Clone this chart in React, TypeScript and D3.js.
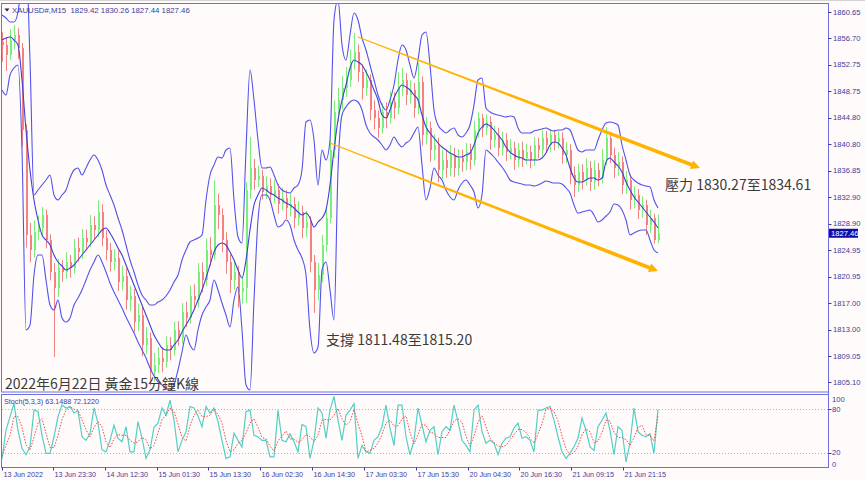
import React from "react";
import * as d3 from "d3";

// 15-min XAUUSD in 4px steps (one entry ≈ 4 bars)
const firstOpen = 1856.2;
const closes = [
  1855.7, 1854.2, 1856.45, 1857.2, 1855.25, 1842.95, 1827.2, 1824.95, 1827.65, 1828.25,
  1830.2, 1826.45, 1821.65, 1819.25, 1822.25, 1821.65, 1823.15, 1822.25, 1825.25, 1824.65,
  1826.75, 1826.15, 1828.7, 1827.95, 1830.65, 1826.75, 1824.95, 1823.15, 1823.75, 1820.15,
  1821.05, 1817.45, 1818.05, 1814.15, 1815.2, 1810.7, 1811.75, 1806.65, 1807.7, 1808.75,
  1808.15, 1810.7, 1809.95, 1812.95, 1811.75, 1815.65, 1814.75, 1818.05, 1817.45, 1821.65,
  1820.45, 1824.95, 1824.2, 1831.7, 1830.2, 1826.45, 1823.15, 1820.45, 1821.65, 1818.65,
  1819.25, 1833.95, 1837.25, 1835.45, 1836.05, 1833.65, 1834.55, 1833.2, 1833.95, 1831.85,
  1832.75, 1831.25, 1831.85, 1829.75, 1830.65, 1828.25, 1829.15, 1823.15, 1818.95, 1821.2,
  1825.7, 1829.75, 1839.95, 1845.65, 1847.45, 1849.25, 1850.45, 1853.15, 1854.65, 1851.65,
  1849.25, 1850.45, 1845.95, 1844.75, 1843.25, 1845.65, 1844.75, 1847.15, 1846.25, 1849.25,
  1850.45, 1848.2, 1848.95, 1846.25, 1850.15, 1842.2, 1843.25, 1839.95, 1840.7, 1836.95,
  1838.45, 1837.25, 1839.2, 1837.25, 1838.75, 1838.15, 1839.65, 1838.45, 1842.95, 1844.75,
  1843.25, 1844.15, 1841.45, 1842.2, 1840.25, 1841.45, 1839.65, 1840.25, 1838.45, 1839.95,
  1838.75, 1839.65, 1838.45, 1840.7, 1839.95, 1841.75, 1840.7, 1842.2, 1841.15, 1841.75,
  1839.2, 1839.95, 1836.2, 1834.7, 1836.65, 1835.45, 1837.25, 1835.15, 1836.95, 1835.75,
  1838.45, 1841.75, 1839.2, 1837.25, 1838.15, 1834.7, 1835.45, 1832.45, 1833.2, 1830.95,
  1831.7, 1828.7, 1829.75, 1826.45, 1827.46,
];
const highs = [
  1857.6, 1856.9, 1858.1, 1858.7, 1858.2, 1856.0, 1843.8, 1829.0, 1829.4, 1830.1,
  1831.4, 1831.0, 1827.3, 1823.0, 1823.6, 1823.4, 1824.6, 1824.2, 1826.6, 1826.8,
  1828.1, 1828.0, 1830.2, 1830.0, 1832.4, 1831.8, 1827.9, 1826.0, 1825.1, 1824.9,
  1822.6, 1822.2, 1819.6, 1819.1, 1816.9, 1816.3, 1813.4, 1812.6, 1809.5, 1810.4,
  1810.2, 1812.0, 1811.9, 1814.2, 1814.3, 1817.0, 1817.2, 1819.6, 1819.8, 1823.0,
  1823.1, 1826.7, 1826.9, 1835.4, 1833.4, 1831.2, 1827.6, 1824.3, 1823.5, 1822.6,
  1821.0, 1835.1, 1841.9, 1838.6, 1837.6, 1837.0, 1836.0, 1835.7, 1835.5, 1834.9,
  1834.3, 1833.9, 1833.4, 1832.9, 1832.3, 1831.6, 1830.8, 1830.0, 1824.2, 1823.0,
  1827.2, 1831.3, 1841.6, 1847.4, 1849.3, 1851.0, 1852.4, 1855.0, 1857.5, 1855.8,
  1852.8, 1852.0, 1851.3, 1847.4, 1845.9, 1847.0, 1847.1, 1848.8, 1848.6, 1851.6,
  1852.3, 1851.5, 1850.4, 1850.0, 1853.0, 1851.0, 1844.9, 1844.2, 1842.3, 1841.8,
  1840.0, 1839.9, 1840.7, 1840.3, 1840.1, 1840.0, 1841.0, 1840.9, 1844.3, 1845.6,
  1845.4, 1845.3, 1845.0, 1843.6, 1843.3, 1842.7, 1842.5, 1841.6, 1841.2, 1841.0,
  1841.2, 1840.9, 1840.6, 1841.9, 1841.8, 1842.9, 1842.8, 1843.1, 1843.0, 1842.8,
  1842.6, 1841.1, 1840.8, 1837.5, 1837.9, 1837.8, 1838.7, 1838.3, 1838.4, 1838.0,
  1840.1, 1843.4, 1842.6, 1840.3, 1839.6, 1839.0, 1836.8, 1836.3, 1834.5, 1834.1,
  1833.0, 1832.5, 1831.0, 1830.4, 1830.26,
];
const lows = [
  1853.2, 1851.8, 1853.5, 1855.0, 1853.6, 1840.5, 1825.3, 1823.1, 1823.8, 1826.4,
  1827.0, 1825.2, 1820.4, 1808.9, 1817.9, 1820.2, 1820.6, 1820.8, 1821.4, 1823.2,
  1823.6, 1824.9, 1825.4, 1826.6, 1826.9, 1825.5, 1823.4, 1821.7, 1821.9, 1818.8,
  1818.9, 1816.0, 1815.8, 1812.6, 1812.8, 1809.0, 1809.3, 1804.7, 1805.2, 1806.5,
  1806.6, 1807.3, 1808.4, 1809.1, 1810.6, 1810.9, 1813.4, 1813.9, 1816.1, 1816.3,
  1818.6, 1819.5, 1822.6, 1823.5, 1828.1, 1824.6, 1821.4, 1818.5, 1819.0, 1816.3,
  1816.9, 1817.0, 1832.6, 1834.0, 1834.4, 1832.5, 1832.6, 1831.9, 1832.0, 1830.4,
  1830.9, 1829.6, 1830.0, 1828.2, 1828.6, 1826.7, 1826.9, 1821.6, 1815.5, 1817.4,
  1820.1, 1824.6, 1828.9, 1838.8, 1844.2, 1846.0, 1847.9, 1849.4, 1852.0, 1850.2,
  1847.5, 1848.1, 1844.4, 1843.0, 1841.8, 1842.4, 1843.2, 1843.9, 1844.6, 1845.3,
  1848.0, 1846.7, 1846.9, 1844.8, 1845.3, 1840.6, 1840.8, 1838.2, 1838.4, 1835.1,
  1835.6, 1835.8, 1836.0, 1835.9, 1836.1, 1836.7, 1836.9, 1837.0, 1837.6, 1841.8,
  1841.9, 1842.2, 1840.0, 1840.3, 1839.0, 1839.1, 1838.3, 1838.6, 1837.0, 1837.4,
  1837.4, 1837.8, 1837.2, 1837.6, 1838.7, 1839.0, 1839.6, 1839.7, 1839.9, 1840.2,
  1837.9, 1838.0, 1834.8, 1832.9, 1833.6, 1834.0, 1834.6, 1833.8, 1834.0, 1834.5,
  1834.9, 1837.6, 1838.0, 1835.7, 1836.1, 1833.3, 1833.4, 1831.0, 1831.2, 1829.6,
  1829.8, 1827.2, 1827.5, 1825.9, 1826.0,
];

// Bollinger bands as drawn on the screenshot
const upperBand = [
  1860.2, 1859.75, 1859.15, 1859.15, 1860.65, 1865.45, 1868.45, 1853.45, 1833.2, 1833.95,
  1834.7, 1835.45, 1836.2, 1833.2, 1832.45, 1833.2, 1833.95, 1835.75, 1836.95, 1837.25,
  1836.2, 1837.25, 1838.45, 1839.2, 1838.45, 1836.95, 1834.7, 1833.2, 1831.7, 1829.75,
  1827.95, 1825.7, 1823.45, 1821.65, 1819.7, 1818.2, 1817.45, 1816.7, 1816.7, 1817.15,
  1817.45, 1818.05, 1818.95, 1820.15, 1821.2, 1823.45, 1824.95, 1826.15, 1826.45, 1826.75,
  1827.2, 1832.45, 1836.2, 1837.7, 1838.9, 1838.75, 1839.95, 1840.25, 1832.45, 1826.9,
  1826.0, 1839.95, 1851.95, 1847.45, 1841.45, 1837.25, 1837.25, 1837.4, 1836.2, 1834.7,
  1833.95, 1833.65, 1833.5, 1834.25, 1834.7, 1836.95, 1844.15, 1844.45, 1841.45, 1834.7,
  1839.95, 1838.45, 1841.45, 1859.45, 1862.45, 1855.7, 1853.45, 1857.2, 1860.5, 1859.45,
  1856.75, 1854.95, 1852.7, 1850.45, 1848.2, 1846.7, 1845.95, 1847.45, 1849.7, 1853.45,
  1855.7, 1854.95, 1852.7, 1850.75, 1853.45, 1857.2, 1857.65, 1852.7, 1845.95, 1843.7,
  1842.95, 1842.5, 1842.95, 1843.25, 1842.2, 1841.9, 1842.5, 1843.7, 1846.7, 1850.45,
  1850.75, 1846.25, 1845.65, 1845.35, 1845.2, 1845.05, 1844.9, 1845.05, 1844.9, 1843.25,
  1842.5, 1842.5, 1842.5, 1842.8, 1842.95, 1843.1, 1843.25, 1842.95, 1842.8, 1842.95,
  1842.95, 1843.25, 1842.95, 1841.45, 1839.95, 1839.65, 1839.95, 1839.95, 1839.95, 1841.45,
  1842.95, 1844.0, 1844.15, 1844.0, 1843.7, 1840.7, 1838.45, 1836.2, 1835.45, 1835.0,
  1834.7, 1834.55, 1834.4, 1832.45, 1831.25,
];
const middleBand = [
  1856.45, 1856.75, 1856.9, 1856.45, 1855.7, 1850.45, 1842.95, 1836.95, 1832.45, 1829.45,
  1827.2, 1826.45, 1825.7, 1824.2, 1823.15, 1822.55, 1821.95, 1822.25, 1822.7, 1823.45,
  1824.2, 1824.95, 1825.7, 1826.45, 1827.2, 1827.95, 1828.25, 1827.5, 1826.45, 1825.25,
  1824.2, 1822.7, 1821.2, 1819.7, 1818.2, 1816.7, 1815.2, 1813.7, 1812.2, 1811.15,
  1810.25, 1809.95, 1809.95, 1810.7, 1811.45, 1812.65, 1813.7, 1814.75, 1815.95, 1817.45,
  1818.95, 1820.75, 1822.7, 1824.65, 1825.7, 1826.0, 1825.7, 1824.65, 1823.45, 1821.95,
  1820.75, 1823.45, 1827.95, 1831.7, 1833.2, 1834.25, 1833.95, 1833.5, 1833.2, 1832.75,
  1832.45, 1832.0, 1831.7, 1831.25, 1830.65, 1830.2, 1830.5, 1829.75, 1828.4, 1829.15,
  1829.75, 1830.95, 1834.7, 1839.95, 1844.45, 1847.45, 1849.7, 1852.25, 1853.45, 1853.15,
  1852.7, 1851.65, 1850.45, 1848.95, 1847.45, 1845.2, 1844.75, 1845.95, 1847.75, 1848.95,
  1849.7, 1849.4, 1848.95, 1848.2, 1847.45, 1845.2, 1843.4, 1842.5, 1841.75, 1841.0,
  1840.4, 1839.95, 1839.5, 1839.2, 1838.9, 1838.9, 1839.2, 1839.5, 1840.7, 1842.5,
  1843.4, 1843.85, 1843.55, 1842.95, 1842.2, 1841.45, 1840.4, 1839.65, 1839.2, 1838.9,
  1838.75, 1838.45, 1838.45, 1838.45, 1838.45, 1838.75, 1839.5, 1840.7, 1841.15, 1841.0,
  1840.25, 1839.2, 1837.25, 1835.75, 1835.15, 1835.15, 1835.45, 1835.75, 1835.75, 1835.45,
  1835.75, 1838.15, 1838.75, 1838.15, 1837.55, 1836.65, 1835.15, 1833.95, 1832.9, 1832.15,
  1831.4, 1830.65, 1829.9, 1829.15, 1828.25,
];
const lowerBand = [
  1848.95, 1848.2, 1851.2, 1852.25, 1852.7, 1839.95, 1812.95, 1813.7, 1821.2, 1824.2,
  1824.2, 1820.45, 1816.7, 1815.95, 1817.45, 1814.75, 1814.15, 1814.75, 1816.7, 1817.75,
  1818.95, 1820.45, 1821.95, 1823.15, 1824.2, 1823.15, 1821.65, 1820.0, 1818.65, 1817.45,
  1816.25, 1814.9, 1813.7, 1812.5, 1811.15, 1809.95, 1808.75, 1807.25, 1806.05, 1805.15,
  1804.7, 1804.25, 1803.95, 1804.7, 1806.95, 1809.65, 1812.2, 1810.7, 1809.95, 1812.95,
  1815.2, 1816.4, 1817.45, 1820.45, 1818.95, 1817.0, 1815.2, 1813.4, 1817.45, 1819.4,
  1812.95, 1804.7, 1803.95, 1817.45, 1829.45, 1833.2, 1833.2, 1832.45, 1830.2, 1828.4,
  1828.7, 1829.45, 1828.7, 1826.45, 1824.95, 1823.75, 1821.2, 1812.95, 1809.5, 1810.4,
  1821.95, 1823.15, 1818.95, 1814.45, 1836.95, 1845.2, 1846.4, 1847.15, 1847.45, 1847.15,
  1845.95, 1843.7, 1842.5, 1841.9, 1841.45, 1840.7, 1839.95, 1840.7, 1841.9, 1841.0,
  1840.4, 1841.0, 1841.45, 1842.5, 1843.4, 1837.7, 1832.45, 1834.25, 1837.25, 1836.2,
  1835.45, 1833.95, 1832.9, 1832.45, 1833.95, 1835.0, 1835.45, 1834.7, 1833.65, 1831.25,
  1833.2, 1839.95, 1839.5, 1838.9, 1838.15, 1837.4, 1836.5, 1835.45, 1835.15, 1835.0,
  1834.85, 1834.7, 1834.7, 1834.55, 1834.7, 1835.0, 1835.3, 1835.15, 1835.0, 1835.0,
  1834.85, 1834.25, 1833.5, 1831.7, 1830.5, 1830.65, 1830.8, 1830.95, 1830.2, 1829.15,
  1829.45, 1830.05, 1830.65, 1831.85, 1831.7, 1830.95, 1829.45, 1827.2, 1827.5, 1827.8,
  1827.95, 1827.95, 1826.45, 1824.95, 1824.5,
];

// Stoch(5,3,3) main (%K) and signal (%D)
const stochK = [
  11, 51, 70, 88, 51, 26, 17, 28, 79, 77,
  44, 19, 19, 42, 70, 86, 82, 84, 75, 78,
  42, 37, 46, 82, 61, 24, 21, 37, 58, 40,
  35, 56, 21, 21, 63, 40, 12, 24, 55, 61,
  82, 72, 93, 65, 21, 37, 49, 84, 82, 71,
  56, 84, 75, 82, 63, 37, 12, 14, 47, 37,
  28, 77, 79, 44, 42, 37, 37, 14, 14, 79,
  37, 35, 46, 35, 21, 59, 56, 12, 37, 82,
  75, 40, 79, 98, 65, 37, 72, 79, 88, 12,
  30, 21, 19, 37, 42, 56, 86, 54, 30, 86,
  86, 42, 17, 37, 82, 58, 35, 51, 56, 17,
  49, 56, 51, 86, 63, 37, 30, 21, 79, 86,
  49, 33, 37, 33, 17, 33, 40, 42, 54, 61,
  40, 42, 37, 21, 79, 79, 82, 84, 65, 42,
  21, 12, 19, 28, 40, 68, 51, 28, 23, 56,
  65, 75, 51, 17, 56, 51, 7, 33, 82, 49,
  44, 42, 46, 19, 80,
];
const stochD = [
  15, 30, 44, 70, 70, 55, 31, 24, 41, 61,
  67, 47, 27, 27, 44, 66, 79, 84, 80, 79,
  65, 52, 42, 55, 63, 56, 35, 27, 39, 45,
  44, 44, 37, 33, 35, 41, 38, 25, 30, 47,
  66, 72, 82, 77, 60, 41, 36, 57, 72, 79,
  70, 70, 72, 80, 73, 61, 37, 21, 24, 33,
  37, 47, 61, 67, 55, 41, 39, 29, 22, 36,
  43, 50, 39, 39, 34, 38, 45, 42, 35, 44,
  65, 66, 65, 72, 81, 67, 58, 63, 80, 60,
  43, 21, 23, 26, 33, 45, 61, 65, 57, 57,
  67, 71, 48, 32, 45, 59, 58, 48, 47, 41,
  41, 41, 52, 64, 67, 62, 43, 29, 43, 62,
  71, 56, 40, 34, 29, 28, 30, 38, 45, 52,
  52, 48, 40, 33, 46, 60, 80, 82, 77, 64,
  43, 25, 17, 20, 29, 45, 53, 49, 34, 36,
  48, 65, 64, 48, 41, 41, 38, 30, 41, 55,
  58, 45, 44, 36, 72,
];

const priceTicks = [
  1860.65, 1856.7, 1852.75, 1848.75, 1844.8, 1840.8, 1836.85, 1832.9, 1828.9,
  1824.95, 1820.95, 1817.0, 1813.0, 1809.05, 1805.1,
];
const stochTicks = [100, 80, 20, 0];
const timeLabels = [
  "13 Jun 2022", "13 Jun 23:30", "14 Jun 12:30", "15 Jun 01:30", "15 Jun 13:30",
  "16 Jun 02:30", "16 Jun 14:30", "17 Jun 03:30", "17 Jun 15:30", "20 Jun 04:30",
  "20 Jun 16:30", "21 Jun 09:15", "21 Jun 21:15",
];
const timeLabelIndex = [0, 12.8, 25.8, 38.8, 51.6, 64.6, 77.6, 90.6, 103.6, 116.4, 129.3, 142.3, 155.3];

const lastPrice = 1827.46;
// trend channel drawn on the chart: [bar index, price]
const channelUpper = [[89, 1856.9], [174.5, 1837.25]];
const channelLower = [[82, 1841.0], [164, 1821.8]];

const axisFont = "'Liberation Sans', Arial, sans-serif";
const cjkFont = "'Noto Sans CJK TC', 'Noto Sans CJK SC', sans-serif";
const axisColor = "#3c3c9c";
const frameColor = "#6f6fe0";
const bandColor = "#5252ec";
const upColor = "#7aee7a";
const downColor = "#f28282";
const orange = "#ffb300";

function taperedArrow(p0: number[], p1: number[]) {
  const dx = p1[0] - p0[0];
  const dy = p1[1] - p0[1];
  const len = Math.hypot(dx, dy);
  const ux = dx / len, uy = dy / len;
  const nx = -uy, ny = ux;
  const w0 = 0.6, w1 = 2.0, headLen = 9, headW = 4.5;
  const bx = p1[0] - ux * headLen, by = p1[1] - uy * headLen;
  const pts = [
    [p0[0] + nx * w0, p0[1] + ny * w0],
    [bx + nx * w1, by + ny * w1],
    [bx + nx * headW, by + ny * headW],
    [p1[0], p1[1]],
    [bx - nx * headW, by - ny * headW],
    [bx - nx * w1, by - ny * w1],
    [p0[0] - nx * w0, p0[1] - ny * w0],
  ];
  return "M" + pts.map((p) => p[0].toFixed(1) + "," + p[1].toFixed(1)).join("L") + "Z";
}

export default function App() {
  const W = 865;
  const H = 480;
  const axisX = 828.5;
  const mainTop = 4;
  const mainBottom = 392;
  const stTop = 394.5;
  const stBottom = 467.5;

  const x = d3.scaleLinear().domain([0, 164]).range([2, 658]);
  const y = d3.scaleLinear().domain([1862.45, 1802.45]).range([0, 400]);
  const ys = d3.scaleLinear().domain([0, 100]).range([467, 395]);

  const bandLine = d3
    .line<number>()
    .x((_, i) => x(i))
    .y((d) => y(d))
    .curve(d3.curveMonotoneX);
  const stochLine = d3
    .line<number>()
    .x((_, i) => x(i))
    .y((d) => ys(d));

  const opens = closes.map((c, i) => (i === 0 ? firstOpen : closes[i - 1]));

  const up = channelUpper.map((p) => [x(p[0]), y(p[1])]);
  const lo = channelLower.map((p) => [x(p[0]), y(p[1])]);

  return (
    <svg
      width={W}
      height={H}
      style={{ position: "fixed", left: 0, top: 0, background: "#fffbfb" }}
    >
      <defs>
        <clipPath id="mainClip">
          <rect x={1.5} y={mainTop} width={axisX - 1.5} height={mainBottom - mainTop} />
        </clipPath>
        <clipPath id="stClip">
          <rect x={1.5} y={stTop} width={axisX - 1.5} height={stBottom - stTop} />
        </clipPath>
      </defs>
      <rect x={0} y={0} width={W} height={H} fill="#fffbfb" />
      <line x1={0} x2={W} y1={0.5} y2={0.5} stroke="#d4d4d4" />

      {/* panel frames */}
      <rect
        x={1.5}
        y={mainTop - 0.5}
        width={axisX - 1.5}
        height={mainBottom - mainTop + 0.5}
        fill="none"
        stroke={frameColor}
      />
      <rect
        x={1.5}
        y={stTop}
        width={axisX - 1.5}
        height={stBottom - stTop}
        fill="none"
        stroke={frameColor}
      />

      <g clipPath="url(#mainClip)">
        {/* candles */}
        {closes.map((c, i) => {
          const o = opens[i];
          const col = c >= o ? upColor : downColor;
          const cx = Math.round(x(i)) + 0.5;
          const top = y(Math.max(o, c));
          const bot = y(Math.min(o, c));
          return (
            <g key={i}>
              <line x1={cx} x2={cx} y1={y(highs[i])} y2={y(lows[i])} stroke={col} strokeWidth={1} />
              <rect x={cx - 0.5} y={top} width={2} height={Math.max(1, bot - top)} fill={col} />
            </g>
          );
        })}
        <path d={bandLine(upperBand) || ""} fill="none" stroke={bandColor} strokeWidth={1.1} />
        <path d={bandLine(lowerBand) || ""} fill="none" stroke={bandColor} strokeWidth={1.1} />
        <path d={bandLine(middleBand) || ""} fill="none" stroke="#3f3fd8" strokeWidth={1.1} />

        {/* descending channel */}
        <path d={taperedArrow(up[0], up[1])} fill={orange} />
        <path d={taperedArrow(lo[0], lo[1])} fill={orange} />
      </g>

      {/* annotations */}
      <text x={665} y={190} fontFamily={cjkFont} fontSize={14} fill="#3a3a3a">
        壓力 1830.27至1834.61
      </text>
      <text x={326} y={345} fontFamily={cjkFont} fontSize={14} fill="#3a3a3a">
        支撐 1811.48至1815.20
      </text>
      <text x={5} y={389} fontFamily={cjkFont} fontSize={14} fill="#3a3a3a">
        2022年6月22日 黃金15分鐘K線
      </text>

      {/* header */}
      <path d="M4.5,8.5 L9.5,8.5 L7,11.5 Z" fill="#202040" />
      <text x={12} y={13} fontFamily={axisFont} fontSize={7.8} fill={axisColor} style={{ whiteSpace: "pre" }}>
        {"XAUUSD#,M15  1829.42 1830.26 1827.44 1827.46"}
      </text>

      {/* price axis */}
      <line x1={axisX} x2={axisX} y1={mainTop - 0.5} y2={stBottom} stroke={frameColor} />
      {priceTicks.map((p) => (
        <g key={p}>
          <line x1={axisX} x2={axisX + 3} y1={Math.round(y(p)) + 0.5} y2={Math.round(y(p)) + 0.5} stroke={axisColor} />
          <text x={833} y={y(p) + 2.7} fontFamily={axisFont} fontSize={7.6} fill={axisColor}>
            {p.toFixed(2)}
          </text>
        </g>
      ))}
      <rect x={829} y={y(lastPrice) - 4.5} width={29} height={9} fill="#0e0ea8" />
      <text x={831} y={y(lastPrice) + 2.7} fontFamily={axisFont} fontSize={7.6} fill="#ffffff">
        {lastPrice.toFixed(2)}
      </text>

      {/* stochastic panel */}
      {[80, 20].map((v) => (
        <line
          key={v}
          x1={2}
          x2={axisX}
          y1={Math.round(ys(v)) + 0.5}
          y2={Math.round(ys(v)) + 0.5}
          stroke="#b4b4b4"
          strokeDasharray="1,2"
        />
      ))}
      <g clipPath="url(#stClip)">
        <path d={stochLine(stochK) || ""} fill="none" stroke="#54cfc4" strokeWidth={1.2} />
        <path d={stochLine(stochD) || ""} fill="none" stroke="#f04848" strokeWidth={1} strokeDasharray="1.5,1.5" />
      </g>
      <text x={4} y={403.5} fontFamily={axisFont} fontSize={7.2} fill={axisColor}>
        Stoch(5,3,3) 63.1488 72.1220
      </text>
      {stochTicks.map((v) => {
        const yy = Math.min(Math.max(ys(v), 399), 464);
        return (
          <g key={v}>
            {(v === 80 || v === 20) && (
              <line x1={axisX} x2={axisX + 3} y1={Math.round(ys(v)) + 0.5} y2={Math.round(ys(v)) + 0.5} stroke={axisColor} />
            )}
            <text x={832} y={yy + 2.7} fontFamily={axisFont} fontSize={7.6} fill={axisColor}>
              {v}
            </text>
          </g>
        );
      })}

      {/* time axis */}
      {timeLabels.map((t, k) => {
        const tx = Math.round(x(timeLabelIndex[k])) + 0.5;
        return (
          <g key={t}>
            <line x1={tx} x2={tx} y1={stBottom} y2={stBottom + 3} stroke={axisColor} />
            <text x={tx + 1} y={476.5} fontFamily={axisFont} fontSize={7.2} fill={axisColor}>
              {t}
            </text>
          </g>
        );
      })}
    </svg>
  );
}
